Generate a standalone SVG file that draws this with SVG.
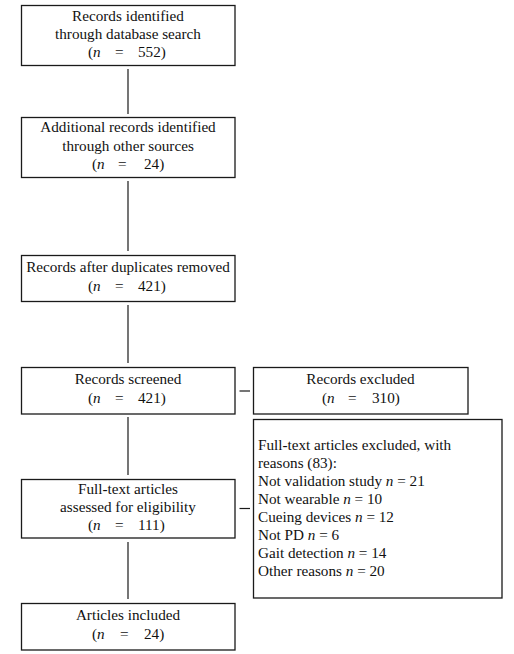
<svg xmlns="http://www.w3.org/2000/svg" width="514" height="654" viewBox="0 0 514 654">
<style>
.box{fill:#fff;stroke:#1a1a1a;stroke-width:1.3}
.ln{stroke:#1a1a1a;stroke-width:1.2;fill:none}
text{font-family:"Liberation Serif","Times New Roman",serif;font-size:15.2px;fill:#111}
.c{text-anchor:middle}
.i{font-style:italic}
</style>
<rect width="514" height="654" fill="#fff"/>
<g id="connectors">
<line class="ln" x1="128" y1="69" x2="128" y2="114"/>
<line class="ln" x1="128" y1="181" x2="128" y2="251"/>
<line class="ln" x1="128" y1="305" x2="128" y2="363"/>
<line class="ln" x1="128" y1="417" x2="128" y2="475"/>
<line class="ln" x1="128" y1="542" x2="128" y2="599"/>
<line class="ln" x1="239.5" y1="391" x2="250" y2="391"/>
<line class="ln" x1="239.5" y1="508.5" x2="250" y2="508.5"/>
</g>
<g id="n1">
<rect class="box" x="21.5" y="5.5" width="213.5" height="60"/>
<text class="c" x="128" y="21">Records identified</text>
<text class="c" x="128" y="39">through database search</text>
<text y="57"><tspan x="88">(</tspan><tspan class="i">n</tspan><tspan x="115">=</tspan><tspan x="138">552)</tspan></text>
</g>
<g id="n2">
<rect class="box" x="21.5" y="117.5" width="213.5" height="60"/>
<text class="c" x="128" y="132">Additional records identified</text>
<text class="c" x="128" y="150.5">through other sources</text>
<text y="169"><tspan x="92">(</tspan><tspan class="i">n</tspan><tspan x="118">=</tspan><tspan x="144">24)</tspan></text>
</g>
<g id="n3">
<rect class="box" x="21.5" y="255.5" width="213.5" height="46"/>
<text class="c" x="128" y="272">Records after duplicates removed</text>
<text y="291"><tspan x="88">(</tspan><tspan class="i">n</tspan><tspan x="115">=</tspan><tspan x="138">421)</tspan></text>
</g>
<g id="n4">
<rect class="box" x="21.5" y="367.5" width="213.5" height="46.5"/>
<text class="c" x="128" y="384">Records screened</text>
<text y="403"><tspan x="88">(</tspan><tspan class="i">n</tspan><tspan x="115">=</tspan><tspan x="138">421)</tspan></text>
</g>
<g id="n5">
<rect class="box" x="253.5" y="367.5" width="214.5" height="46.5"/>
<text class="c" x="360.5" y="384">Records excluded</text>
<text y="403"><tspan x="322">(</tspan><tspan class="i">n</tspan><tspan x="348">=</tspan><tspan x="372">310)</tspan></text>
</g>
<g id="n6">
<rect class="box" x="253.5" y="419.5" width="248.5" height="178.5"/>
<text x="258" y="450">Full-text articles excluded, with</text>
<text x="258" y="468">reasons (83):</text>
<text x="258" y="486">Not validation study <tspan class="i">n</tspan> = 21</text>
<text x="258" y="504">Not wearable <tspan class="i">n</tspan> = 10</text>
<text x="258" y="522">Cueing devices <tspan class="i">n</tspan> = 12</text>
<text x="258" y="540">Not PD <tspan class="i">n</tspan> = 6</text>
<text x="258" y="558">Gait detection <tspan class="i">n</tspan> = 14</text>
<text x="258" y="576">Other reasons <tspan class="i">n</tspan> = 20</text>
</g>
<g id="n7">
<rect class="box" x="21.5" y="479.5" width="213.5" height="58.5"/>
<text class="c" x="128" y="493.5">Full-text articles</text>
<text class="c" x="128" y="511.5">assessed for eligibility</text>
<text y="530"><tspan x="88">(</tspan><tspan class="i">n</tspan><tspan x="115">=</tspan><tspan x="138">111)</tspan></text>
</g>
<g id="n8">
<rect class="box" x="21.5" y="603.5" width="213.5" height="46.5"/>
<text class="c" x="128" y="620">Articles included</text>
<text y="638.5"><tspan x="92">(</tspan><tspan class="i">n</tspan><tspan x="120">=</tspan><tspan x="144">24)</tspan></text>
</g>
</svg>
